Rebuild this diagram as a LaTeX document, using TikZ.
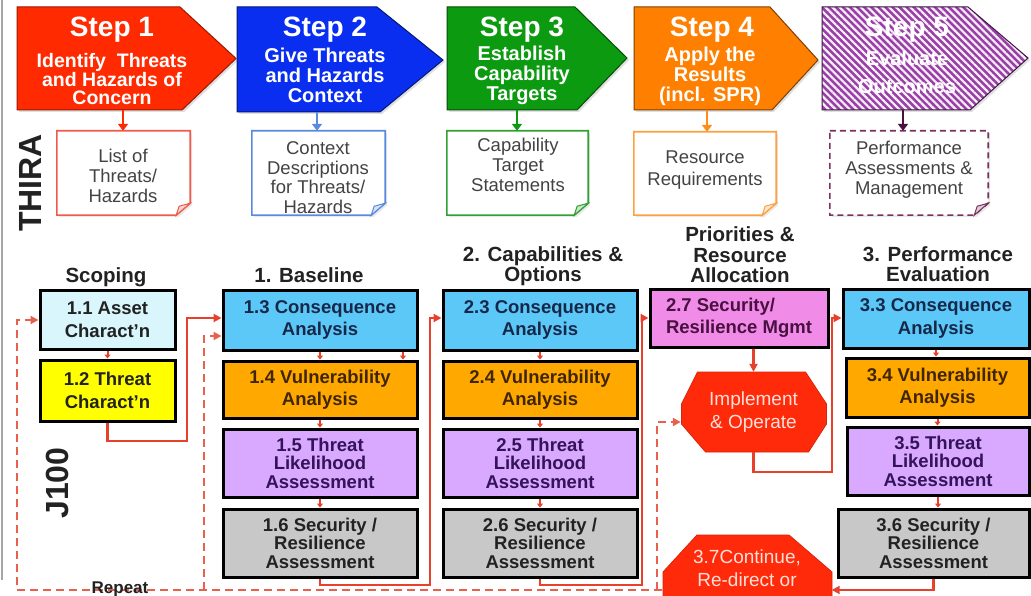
\documentclass[tikz,border=0pt]{standalone}
\usepackage{fontspec}
\setmainfont{Liberation Sans}
\usetikzlibrary{arrows.meta,patterns.meta,shadows,calc}
\pgfdeclarelayer{background}
\pgfdeclarelayer{canvas}
\pgfsetlayers{canvas,background,main}
\newcommand\fs[2]{\fontsize{#1}{#2}\selectfont}
\definecolor{cred}{HTML}{FF2A00}
\definecolor{cblue}{HTML}{0A2EF0}
\definecolor{cgreen}{HTML}{0B9A10}
\definecolor{corange}{HTML}{FF7F00}
\definecolor{cpurple}{HTML}{9A3FA8}
\definecolor{connc}{HTML}{E8402A}
\definecolor{dashc}{HTML}{E8604E}
\definecolor{fcyan}{HTML}{D8F6FB}
\definecolor{fyellow}{HTML}{FFFF00}
\definecolor{fsky}{HTML}{5CC8F8}
\definecolor{forange}{HTML}{FFA800}
\definecolor{flav}{HTML}{D9A8FF}
\definecolor{fgray}{HTML}{C8C8C8}
\definecolor{fpink}{HTML}{F08CE8}
\definecolor{octred}{HTML}{FF2A0A}
\definecolor{tnavy}{HTML}{16284A}
\definecolor{tbrown}{HTML}{3F2600}
\definecolor{tpurp}{HTML}{34135A}
\definecolor{tdark}{HTML}{222222}
\definecolor{tpink}{HTML}{4A1040}
\definecolor{docred}{HTML}{F05A4A}
\definecolor{docblue}{HTML}{5A8AE0}
\definecolor{docgreen}{HTML}{30A030}
\definecolor{docorange}{HTML}{FFA040}
\definecolor{docpurple}{HTML}{7A3060}
\definecolor{octtxt}{HTML}{FFE0D8}
\begin{document}
\begin{tikzpicture}[x=1pt,y=-1pt,
  box/.style={draw=black, line width=3pt, align=center, inner sep=0pt, font=\bfseries\fs{18.5}{22.5}},
  tri/.style={font=\bfseries\fs{18.5}{18.5}},
  conn/.style={draw=connc, line width=2.6pt, -{Triangle[length=8pt,width=8pt]}},
  tiny/.style={draw=connc, line width=2pt, -{Triangle[length=4pt,width=6pt]}},
  loop/.style={draw=dashc, line width=2.6pt, dash pattern=on 8pt off 5pt, -{Triangle[length=8pt,width=8pt]}},
  head/.style={font=\bfseries\fs{20.5}{20.5}, text=tdark, align=center},
  steptitle/.style={font=\bfseries\fs{28}{28}, text=white},
  stepsub/.style={font=\bfseries\fs{20}{20}, text=white, align=center},
  steparrow/.style={line width=2.4pt, -{Triangle[length=7pt,width=10pt]}},
  doctext/.style={font=\fs{18.5}{20}, text=tdark!85, align=center},
  docframe/.style={inner sep=0pt},
  docsolid/.style={solid},
  docdash/.style={dash pattern=on 6pt off 4pt},
  octtext/.style={font=\fs{19}{23}, text=octtxt, align=center, inner sep=0pt},
  stepshadow/.style={drop shadow={opacity=0.25,shadow xshift=2pt,shadow yshift=-2pt}},
]
\useasboundingbox (0,0) rectangle (1031,596);
\clip (0,0) rectangle (1031,596);
\begin{pgfonlayer}{canvas}
\fill[white] (0,0) rectangle (1031,596);
\end{pgfonlayer}
\draw[gray!70, line width=1.5pt] (2,0) -- (2,580);

% ---------- step arrows ----------
\filldraw[fill=cred, draw=cred!60!black, line width=1pt, stepshadow]
  (17,7) -- (180,7) -- (236,58.5) -- (182,110) -- (17,110) -- cycle;
\filldraw[fill=cblue, draw=cblue!50!black, line width=1pt, stepshadow]
  (237,7) -- (377,7) -- (443,60) -- (380,112) -- (237,112) -- cycle;
\filldraw[fill=cgreen, draw=cgreen!50!black, line width=1pt, stepshadow]
  (447,7) -- (575,7) -- (627,58) -- (577,110) -- (447,110) -- cycle;
\filldraw[fill=corange, draw=corange!50!black, line width=1pt, stepshadow]
  (634,7) -- (770,7) -- (818,60) -- (772,110) -- (634,110) -- cycle;
\path[fill=cpurple, stepshadow,
  postaction={pattern={Lines[angle=-45,distance=5pt,line width=2.2pt]}, pattern color=white!92!cpurple},
  postaction={draw=cpurple!40!black, line width=1pt}]
  (822,7) -- (968,7) -- (1028,58) -- (970,110) -- (822,110) -- cycle;

\node[steptitle] (s1t) at (112,30) {Step 1};
\node[steptitle] (s2t) at (325,30) {Step 2};
\node[steptitle] (s3t) at (522,30) {Step 3};
\node[steptitle] (s4t) at (712,30) {Step 4};
\node[steptitle] (s5t) at (907,30) {Step 5};
\node[stepsub, font=\bfseries\fs{19.5}{17.5}] (s1s) at (112,79) {Identify~~Threats\\and Hazards of\\Concern};
\node[stepsub] (s2s) at (325,75) {Give Threats\\and Hazards\\Context};
\node[stepsub] (s3s) at (522,75) {Establish\\Capability\\Targets};
\node[stepsub] (s4s) at (710,76) {Apply the\\Results\\(incl. SPR)};
\node[stepsub, font=\bfseries\fs{20}{28}] (s5s) at (907,72) {Evaluate\\Outcomes};

% ---------- THIRA documents ----------
\node[docframe, minimum width=133, minimum height=84] (d1f) at (123.5,173) {};
\node[docframe, minimum width=133, minimum height=84] (d2f) at (318.5,173) {};
\node[docframe, minimum width=141, minimum height=84] (d3f) at (517.5,173) {};
\node[docframe, minimum width=142, minimum height=83] (d4f) at (705,173.5) {};
\node[docframe, minimum width=158, minimum height=84] (d5f) at (909,173) {};
\foreach \f/\c/\d in {d1f/docred/docsolid, d2f/docblue/docsolid, d3f/docgreen/docsolid, d4f/docorange/docsolid, d5f/docpurple/docdash}{
  \filldraw[fill=white, draw=\c, line width=1.6pt, \d, drop shadow={opacity=0.18,shadow xshift=2pt,shadow yshift=-2pt}]
    (\f.north west) -- (\f.north east) -- ([yshift=12]\f.south east)
    -- ([xshift=-14]\f.south east) -- (\f.south west) -- cycle;
  \filldraw[fill=\c!25, draw=\c, line width=1pt]
    ([xshift=-14]\f.south east) -- ([yshift=12]\f.south east) -- ([xshift=-11,yshift=9]\f.south east) -- cycle;
}
\node[doctext] (d1) at (123,176) {List of\\Threats/\\Hazards};
\node[doctext, font=\fs{18.5}{19.5}] (d2) at (318,177.5) {Context\\Descriptions\\for Threats/\\Hazards};
\node[doctext] (d3) at (518,165) {Capability\\Target\\Statements};
\node[doctext, font=\fs{18.5}{22}] (d4) at (705,170.5) {Resource\\Requirements};
\node[doctext] (d5) at (909,169.5) {Performance\\Assessments \&\\Management};

\coordinate (a1) at (123,110);
\coordinate (a2) at (317,112);
\coordinate (a3) at (517,110);
\coordinate (a4) at (707,110);
\coordinate (a5) at (903,110);
\draw[steparrow, draw=cred, fill=cred] (a1) -- (d1f.north -| a1);
\draw[steparrow, draw=docblue, fill=docblue] (a2) -- (d2f.north -| a2);
\draw[steparrow, draw=cgreen, fill=cgreen] (a3) -- (d3f.north -| a3);
\draw[steparrow, draw=corange!90, fill=corange!90] (a4) -- (d4f.north -| a4);
\draw[steparrow, draw=tpink, fill=tpink] (a5) -- (d5f.north -| a5);

% ---------- side labels ----------
\node[rotate=90, font=\bfseries\fs{32}{32}, text=tdark] (thira) at (30,183) {THIRA};
\node[rotate=90, font=\bfseries\fs{32}{32}, text=tdark] (j100) at (57,483) {J100};

% ---------- headings ----------
\node[head] (hscope) at (106,277) {Scoping};
\node[head] (hbase) at (309,275) {1. Baseline};
\node[head] (hcap) at (543,266) {2. Capabilities \&\\Options};
\node[head] (hprio) at (740,255) {Priorities \&\\Resource\\Allocation};
\node[head] (hperf) at (938,264) {3. Performance\\Evaluation};

% ---------- J100 boxes ----------
\node[box, fill=fcyan, text=tdark, minimum width=135, minimum height=59] (b11) at (107.5,319.5) {1.1 Asset\\Charact'n};
\node[box, fill=fyellow, text=tdark, minimum width=135, minimum height=61] (b12) at (107.5,390.5) {1.2 Threat\\Charact'n};

\node[box, fill=fsky, text=tnavy, minimum width=194, minimum height=60] (b13) at (320,320) {1.3 Consequence\\Analysis};
\node[box, fill=forange, text=tbrown, minimum width=194, minimum height=57] (b14) at (320,389.5) {1.4 Vulnerability\\Analysis};
\node[box, tri, fill=flav, text=tpurp, minimum width=194, minimum height=68] (b15) at (320,463) {1.5 Threat\\Likelihood\\Assessment};
\node[box, tri, fill=fgray, text=tdark, minimum width=194, minimum height=68] (b16) at (320,543) {1.6 Security /\\Resilience\\Assessment};

\node[box, fill=fsky, text=tnavy, minimum width=194, minimum height=60] (b23) at (540,320) {2.3 Consequence\\Analysis};
\node[box, fill=forange, text=tbrown, minimum width=194, minimum height=57] (b24) at (540,389.5) {2.4 Vulnerability\\Analysis};
\node[box, tri, fill=flav, text=tpurp, minimum width=194, minimum height=68] (b25) at (540,463) {2.5 Threat\\Likelihood\\Assessment};
\node[box, tri, fill=fgray, text=tdark, minimum width=194, minimum height=68] (b26) at (540,543) {2.6 Security /\\Resilience\\Assessment};

\node[box, fill=fpink, text=tpink, align=left, minimum width=178, minimum height=58] (b27) at (739,318) {2.7 Security/\\Resilience Mgmt};

\node[box, fill=fsky, text=tnavy, minimum width=186, minimum height=59] (b33) at (936,318.5) {3.3 Consequence\\Analysis};
\node[box, fill=forange, text=tbrown, minimum width=183, minimum height=59] (b34) at (937.5,387.5) {3.4 Vulnerability\\Analysis};
\node[box, tri, fill=flav, text=tpurp, minimum width=182, minimum height=68] (b35) at (938,461) {3.5 Threat\\Likelihood\\Assessment};
\node[box, tri, fill=fgray, text=tdark, minimum width=191, minimum height=68] (b36) at (933.5,543) {3.6 Security /\\Resilience\\Assessment};

% ---------- octagons ----------
\node[octtext, minimum width=145, minimum height=80] (impl) at (753.5,412) {Implement\\\& Operate};
\node[octtext, minimum width=169, minimum height=75] (cont) at (747,568) {3.7Continue,\\Re-direct or};
\begin{pgfonlayer}{background}
\filldraw[fill=octred, draw=octred!85!black, line width=0.8pt]
  ($(impl.center)+(-56,-40)$) -- ($(impl.center)+(52,-40)$) -- ($(impl.center)+(73,-8)$)
  -- ($(impl.center)+(73,12)$) -- ($(impl.center)+(55,40)$) -- ($(impl.center)+(-48,40)$)
  -- ($(impl.center)+(-72,12)$) -- ($(impl.center)+(-72,-8)$) -- cycle;
\filldraw[fill=octred, draw=octred!85!black, line width=0.8pt]
  ($(cont.center)+(-50,-33)$) -- ($(cont.center)+(42,-33)$) -- ($(cont.center)+(85,4)$)
  -- ($(cont.center)+(85,45)$) -- ($(cont.center)+(-84,45)$) -- ($(cont.center)+(-84,4)$) -- cycle;
\end{pgfonlayer}

% ---------- small arrows between boxes ----------
\draw[tiny] (b11.south) -- (b12.north);
\draw[tiny] (b13.south) -- (b14.north);
\draw[tiny] ([xshift=83]b13.south) -- ([xshift=83]b14.north);
\draw[tiny] (b14.south) -- (b15.north);
\draw[tiny] (b15.south) -- (b16.north);
\draw[tiny] (b23.south) -- (b24.north);
\draw[tiny] (b24.south) -- (b25.north);
\draw[tiny] (b25.south) -- (b26.north);
\draw[tiny] (b33.south) -- (b33.south |- b34.north);
\draw[tiny] (b34.south) -- (b34.south |- b35.north);
\draw[tiny] (b35.south) -- (b35.south |- b36.north);

% ---------- main connectors ----------
\coordinate (bot) at (0,590);
\coordinate (r1) at (0,441);
\coordinate (r1v) at (187,318);
\coordinate (r2) at (0,585);
\coordinate (r2v) at (430,318);
\coordinate (r3v) at (642,318);
\coordinate (r4) at (0,472);
\coordinate (r4v) at (832,318);
\draw[conn] (b12.south) -- (b12.south |- r1) -| (r1v) -- (b13.west |- r1v);
\draw[conn] (b16.south) -- (b16.south |- r2) -| (r2v) -- (b23.west |- r2v);
\draw[conn] (b26.south) -- (b26.south |- r2) -| (r3v) -- (b27.west |- r3v);
\draw[conn] (b27.south -| impl.north) -- (impl.north);
\draw[conn] (impl.south) -- (impl.south |- r4) -| (r4v) -- (b33.west |- r4v);
\draw[conn] (b36.south) -- (b36.south |- bot) -- (cont.east |- bot);

% ---------- dashed repeat loop ----------
\coordinate (L0) at (17,320);
\coordinate (L1) at (204,336);
\coordinate (L2) at (657,422);
\draw[loop] (cont.west |- bot) -- (L0 |- bot) -- (L0) -- (b11.west |- L0);
\draw[loop] (L1 |- bot) -- (L1) -- (b13.west |- L1);
\draw[loop] (L2 |- bot) -- (L2) -- (impl.west |- L2);
\node[font=\bfseries\fs{17}{17}, text=tdark] (rep) at (120,589) {Repeat};
\end{tikzpicture}
\end{document}
